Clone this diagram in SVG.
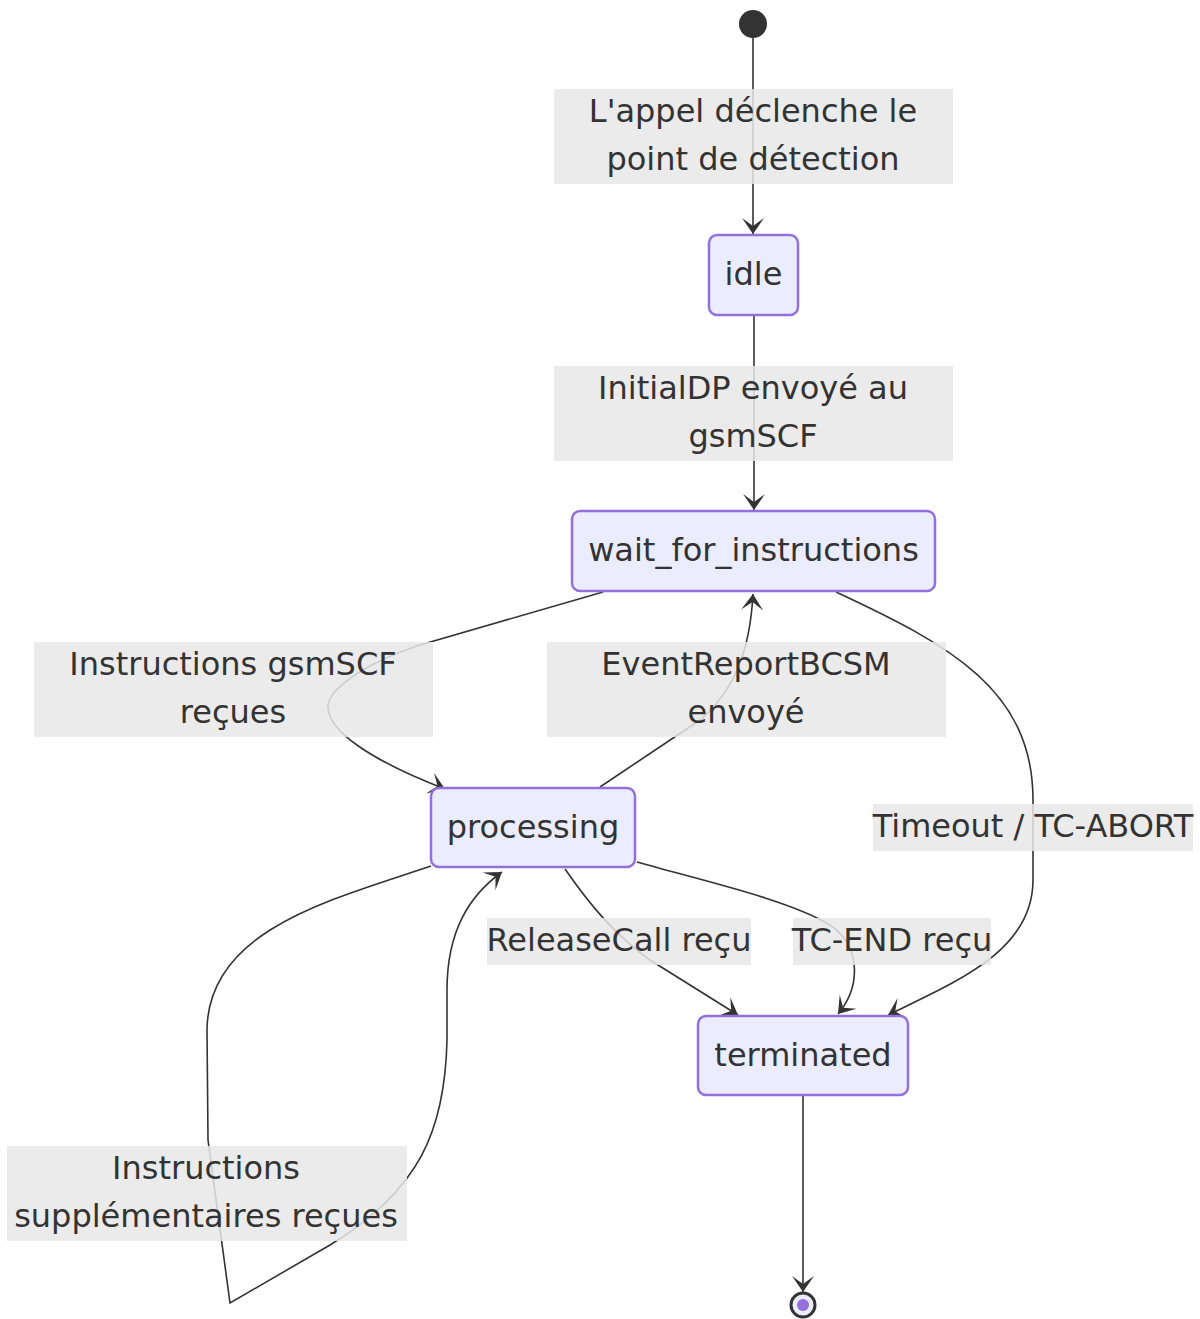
<svg xmlns="http://www.w3.org/2000/svg" width="1200" height="1319" viewBox="0 0 1200 1319">
<style>
.node rect{fill:#ECECFF;stroke:#9370DB;stroke-width:2.5}
.node text,.lbl text{font-family:"DejaVu Sans",sans-serif;font-size:32px;fill:#333;text-anchor:middle;dominant-baseline:central}
.edge{fill:none;stroke:#333;stroke-width:1.6;marker-end:url(#arr)}
.lbl rect{fill:#e8e8e8;opacity:0.85}
</style>
<defs>
<marker id="arr" markerUnits="userSpaceOnUse" markerWidth="40" markerHeight="40" refX="0" refY="0" viewBox="-20 -20 40 40" orient="auto">
<path d="M0,0 L-16,-11 L-8,0 L-16,11 Z" fill="#333"/>
</marker>
</defs>
<g id="connectors">
<path class="edge" d="M753,38 L753,234"/>
<path class="edge" d="M754,316 L754,510"/>
<path class="edge" d="M603,592 L420,645 C360,665 330,690 328,705 C326,730 370,760 445,789"/>
<path class="edge" d="M600,787 L700,720 C735,690 750,650 753,594"/>
<path class="edge" d="M836,592 C950,645 1033,690 1033,800 L1033,880 C1033,950 960,980 888,1015"/>
<path class="edge" d="M565,869 C590,905 615,935 650,960 L738,1015"/>
<path class="edge" d="M637,862 C700,880 790,900 830,925 C860,945 862,985 838,1014"/>
<path class="edge" d="M431,866 C330,900 208,930 207,1030 L208,1140 L230,1303 L330,1245 C420,1190 445,1130 447,1040 L447,990 C447,930 470,895 502,872"/>
<path class="edge" d="M803,1096 L803,1292"/>
</g>
<g class="lbl" id="label-1"><rect x="554" y="89" width="399" height="95"/><text x="753" y="111">L'appel déclenche le</text><text x="753" y="159">point de détection</text></g>
<g class="lbl" id="label-2"><rect x="554" y="366" width="399" height="95"/><text x="753" y="388">InitialDP envoyé au</text><text x="753" y="436">gsmSCF</text></g>
<g class="lbl" id="label-3"><rect x="34" y="642" width="399" height="95"/><text x="233" y="664">Instructions gsmSCF</text><text x="233" y="712">reçues</text></g>
<g class="lbl" id="label-4"><rect x="547" y="642" width="399" height="95"/><text x="746" y="664">EventReportBCSM</text><text x="746" y="712">envoyé</text></g>
<g class="lbl" id="label-5"><rect x="873" y="804" width="320" height="47"/><text x="1033" y="826">Timeout / TC-ABORT</text></g>
<g class="lbl" id="label-6"><rect x="487" y="918" width="264" height="47"/><text x="619" y="940">ReleaseCall reçu</text></g>
<g class="lbl" id="label-7"><rect x="793" y="918" width="198" height="47"/><text x="892" y="940">TC-END reçu</text></g>
<g class="lbl" id="label-8"><rect x="7" y="1146" width="400" height="95"/><text x="206" y="1168">Instructions</text><text x="206" y="1216">supplémentaires reçues</text></g>
<g id="start"><circle cx="753" cy="24" r="14" fill="#333"/></g>
<g class="node" id="idle"><rect x="709" y="235" width="89" height="80" rx="8"/><text x="753.5" y="274">idle</text></g>
<g class="node" id="wait_for_instructions"><rect x="572" y="511" width="363" height="80" rx="8"/><text x="753.5" y="550">wait_for_instructions</text></g>
<g class="node" id="processing"><rect x="431" y="788" width="204" height="79" rx="8"/><text x="533" y="827">processing</text></g>
<g class="node" id="terminated"><rect x="698" y="1016" width="210" height="79" rx="8"/><text x="803" y="1055">terminated</text></g>
<g id="end"><circle cx="803" cy="1305" r="12" fill="#ECECFF" stroke="#333" stroke-width="3"/><circle cx="803" cy="1305" r="6" fill="#9370DB"/></g>
</svg>
